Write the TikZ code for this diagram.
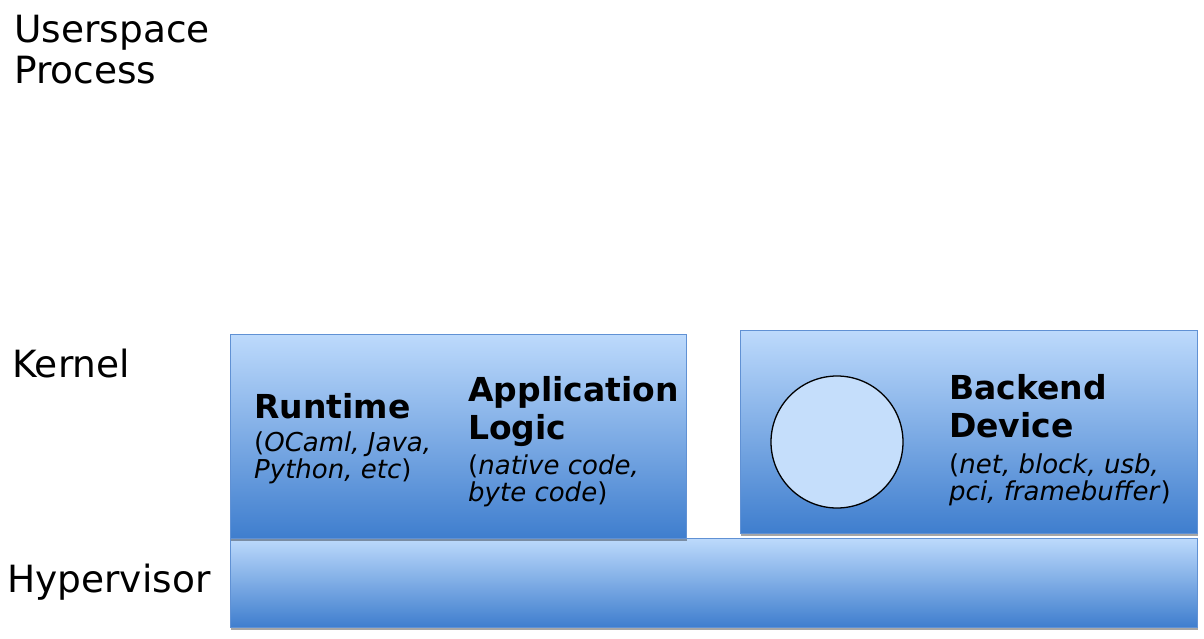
\documentclass[tikz,border=0pt]{standalone}
\usepackage{fontspec}
\setmainfont{DejaVu Sans}
\usetikzlibrary{shadows}

\definecolor{boxtop}{RGB}{189,218,252}
\definecolor{boxbottom}{RGB}{63,126,206}
\definecolor{boxline}{RGB}{96,145,212}
\definecolor{devfill}{RGB}{197,222,251}

\begin{document}
\begin{tikzpicture}[x=1pt,y=-1pt,
                    layer box/.style={rectangle,draw=boxline,line width=1pt,inner sep=0pt,
                      top color=boxtop,bottom color=boxbottom,
                      drop shadow={shadow xshift=1pt,shadow yshift=-3pt,fill=black,opacity=.35}},
                    layer label/.style={anchor=base west,inner sep=0pt,align=left,
                      font=\fontsize{37.5}{41}\selectfont},
                    title text/.style={anchor=base west,inner sep=0pt,align=left,
                      font=\fontsize{33}{38}\selectfont\bfseries},
                    note text/.style={anchor=base west,inner sep=0pt,align=left,
                      font=\fontsize{26}{27}\selectfont}]
\useasboundingbox (0,0) rectangle (1204,639);

% layers
\node[layer box,minimum width=967pt,minimum height=89pt] (hyper) at (713.5,582.5) {};
\node[layer box,minimum width=456pt,minimum height=204pt] (runtime) at (458,436) {};
\node[layer box,minimum width=457pt,minimum height=203pt] (backend) at (968.5,431.5) {};
\node[circle,draw,line width=1.3pt,fill=devfill,minimum size=132pt] (dev) at (837,442) {};

% left labels (base = last line)
\node[layer label] (user) at (14,84) {Userspace\\Process};
\node[layer label] (kern) at (12,377) {Kernel};
\node[layer label] (hyp) at (7,592) {Hypervisor};

% box texts
\node[title text] (rt) at (254,418) {Runtime};
\node[note text] (rtnote) at (254,478) {(\textit{OCaml, Java,}\\\textit{Python, etc})};
\node[title text] (app) at (468,439) {Application\\Logic};
\node[note text] (appnote) at (468,501) {(\textit{native code,}\\\textit{byte code})};
\node[title text] (be) at (949,437) {Backend\\Device};
\node[note text] (benote) at (949,500) {(\textit{net, block, usb,}\\\textit{pci, framebuffer})};
\end{tikzpicture}
\end{document}
